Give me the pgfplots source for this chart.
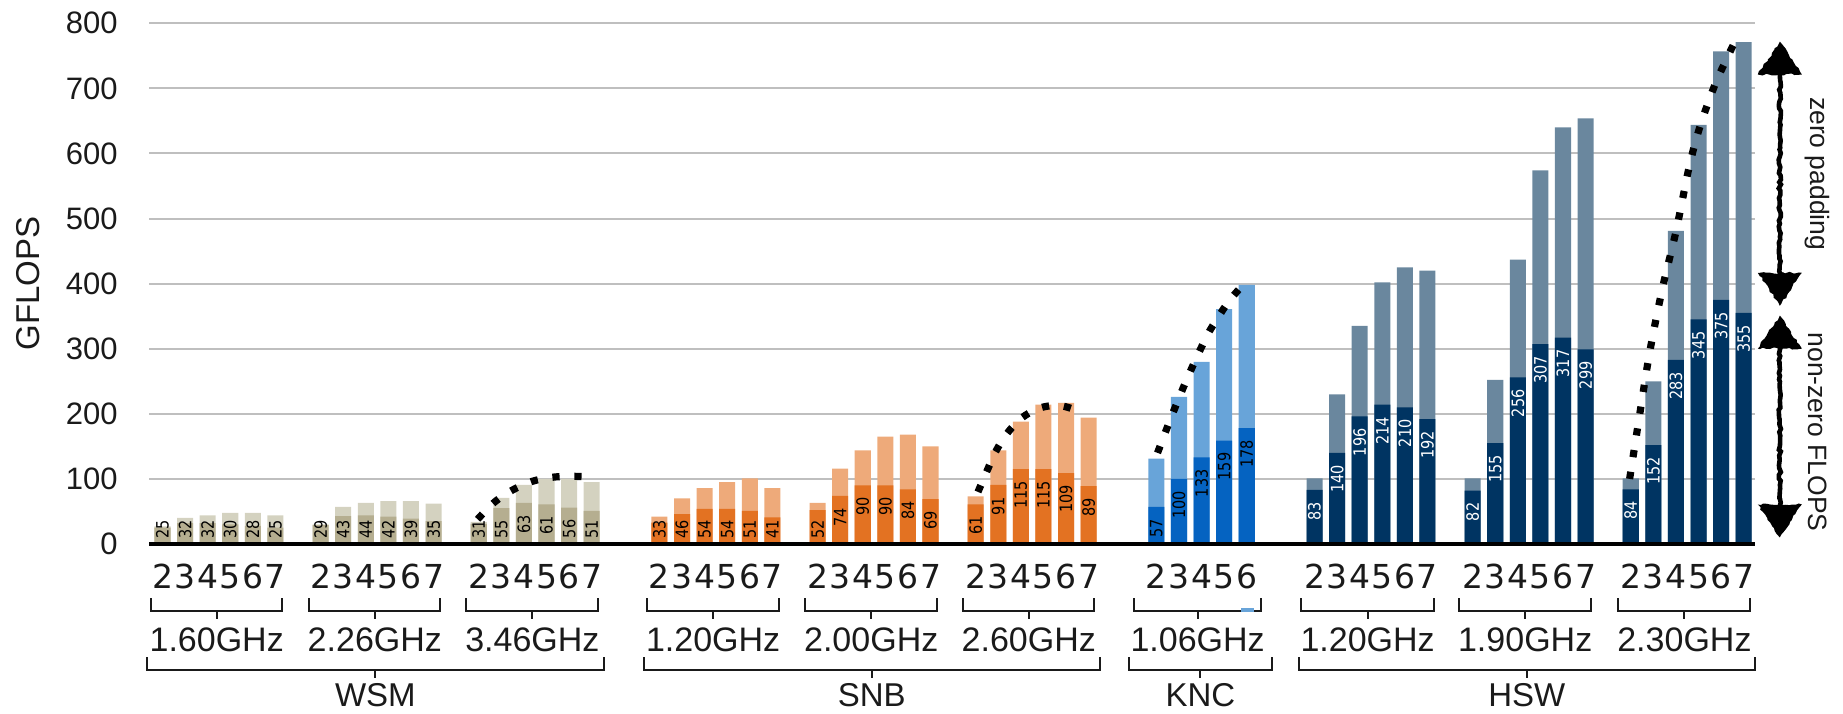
\documentclass[border=0pt]{standalone}
\usepackage{fontspec}
\setmainfont{Liberation Sans}
\newfontfamily\djv{DejaVu Sans}
\newfontfamily\djvc[FakeStretch=0.85]{DejaVu Sans}
\usepackage{pgfplots}
\pgfplotsset{compat=1.18}
\usepackage{pgfplotstable}
\usetikzlibrary{arrows.meta,decorations.pathmorphing}

\definecolor{wsmL}{HTML}{D4D2C0}
\definecolor{wsmD}{HTML}{B5AE90}
\definecolor{snbL}{HTML}{EEAA7A}
\definecolor{snbD}{HTML}{E37222}
\definecolor{kncL}{HTML}{68A4D9}
\definecolor{kncD}{HTML}{0563C1}
\definecolor{hswL}{HTML}{6A879E}
\definecolor{hswD}{HTML}{003462}
\definecolor{txt}{HTML}{1A1A1A}

% x = bar slot, t = total GFLOPS (with zero padding), d = non-zero GFLOPS
\pgfplotstableread{
x  t   d
0  27  25
1  40  32
2  44  32
3  48  30
4  48  28
5  44  25
7  30  29
8  57  43
9  63  44
10 66  42
11 66  39
12 62  35
14 34  31
15 71  55
16 91  63
17 100 61
18 100 56
19 95  51
}\wsm
\pgfplotstableread{
x  t   d
22 42  33
23 70  46
24 86  54
25 95  54
26 101 51
27 86  41
29 63  52
30 116 74
31 144 90
32 165 90
33 168 84
34 150 69
36 73  61
37 144 91
38 188 115
39 214 115
40 217 109
41 194 89
}\snb
\pgfplotstableread{
x  t   d
44 131 57
45 226 100
46 280 133
47 361 159
48 398 178
}\knc
\pgfplotstableread{
x  t   d
51 101 83
52 230 140
53 335 196
54 402 214
55 425 210
56 420 192
58 101 82
59 252 155
60 437 256
61 574 307
62 640 317
63 654 299
65 101 84
66 250 152
67 481 283
68 644 345
69 757 375
70 771 355
}\hsw

\newcommand\labfont{\djvc\fontsize{8.5}{9}\selectfont}

\pgfplotsset{
  barp/.style={ybar, bar width=0.71, bar shift=0pt, draw=none, fill=#1},
  lab/.style={draw=none, mark=none, nodes near coords, point meta=explicit symbolic,
    every node near coord/.append style={rotate=90, anchor=east, inner sep=0pt,
      font=\labfont, text=#1}},
  dots/.style={smooth, tension=0.55, black, line width=3.6pt, dash pattern=on 3.6pt off 7.4pt},
}

\begin{document}
\begin{tikzpicture}
\pgfmathsetseed{7}
\begin{axis}[
  scale only axis, width=802.8pt, height=260.35pt,
  xmin=-0.58, xmax=70.5, ymin=0, ymax=800,
  clip=false,
  axis line style={draw=none},
  major tick length=0pt,
  ytick={0,100,...,800},
  ymajorgrids, grid style={line width=1pt, draw=black!25},
  /pgf/number format/assume math mode=true,
  yticklabel style={font=\fontsize{15.5}{18}\selectfont, text=txt, anchor=east, inner sep=0pt, xshift=-15.7pt},
  xtick={0,1,2,3,4,5,7,8,9,10,11,12,14,15,16,17,18,19,22,23,24,25,26,27,29,30,31,32,33,34,36,37,38,39,40,41,44,45,46,47,48,51,52,53,54,55,56,58,59,60,61,62,63,65,66,67,68,69,70},
  xticklabels={2,3,4,5,6,7,2,3,4,5,6,7,2,3,4,5,6,7,2,3,4,5,6,7,2,3,4,5,6,7,2,3,4,5,6,7,2,3,4,5,6,2,3,4,5,6,7,2,3,4,5,6,7,2,3,4,5,6,7},
  xticklabel style={font=\djv\fontsize{16.5}{18}\selectfont, text=txt, anchor=north, inner sep=0pt, yshift=-10pt},
]
\coordinate (O) at (rel axis cs:0,0);

% totals (light) with the non-zero part (dark) drawn over them
\addplot[barp=wsmL] table[x=x,y=t]{\wsm};
\addplot[barp=wsmD] table[x=x,y=d]{\wsm};
\addplot[barp=snbL] table[x=x,y=t]{\snb};
\addplot[barp=snbD] table[x=x,y=d]{\snb};
\addplot[barp=kncL] table[x=x,y=t]{\knc};
\addplot[barp=kncD] table[x=x,y=d]{\knc};
\addplot[barp=hswL] table[x=x,y=t]{\hsw};
\addplot[barp=hswD] table[x=x,y=d]{\hsw};

% value labels inside the non-zero segments
\addplot[lab=black] table[x=x, y expr={max(\thisrow{d}-18,ifthenelse(\thisrow{d}<100,37,51))}, meta=d]{\wsm};
\addplot[lab=black] table[x=x, y expr={max(\thisrow{d}-18,ifthenelse(\thisrow{d}<100,37,51))}, meta=d]{\snb};
\addplot[lab=black] table[x=x, y expr={max(\thisrow{d}-18,ifthenelse(\thisrow{d}<100,37,51))}, meta=d]{\knc};
\addplot[lab=white] table[x=x, y expr={max(\thisrow{d}-18,ifthenelse(\thisrow{d}<100,37,51))}, meta=d]{\hsw};

% trend curves over the best-frequency groups
\addplot[dots] coordinates {(13.95,38) (14.72,65) (15.5,83) (16.34,96) (17.24,102.5) (18.17,104) (19.1,102.5)};
\addplot[dots] coordinates {(36.1,80) (36.51,113) (36.88,141.6) (37.37,169) (38.03,193.5) (38.84,209) (39.73,212.7) (40.66,203)};
\addplot[dots] coordinates {(44.05,140) (44.72,200.5) (45.44,260.5) (46.22,318.5) (46.69,346) (47.21,373) (47.8,397)};
\addplot[dots] coordinates {(64.95,100) (65.4,200) (65.85,297) (66.41,394) (67.0,480) (67.59,580) (68.06,641) (68.72,705) (69.39,756) (69.8,785)};

% baseline
\draw[line width=2pt, black] (rel axis cs:0,0) -- (rel axis cs:1,0);

% side annotation: two sketched double arrows
\tikzset{rough/.style={decorate, decoration={random steps, segment length=1.6pt, amplitude=0.55pt}}}
\draw[rough, line width=2.3pt] (axis cs:71.6,384) -- (axis cs:71.6,754);
\fill[rough] (axis cs:71.6,772) -- ([xshift=11pt,yshift=-16.5pt]axis cs:71.6,772) -- ([xshift=-11pt,yshift=-16.5pt]axis cs:71.6,772) -- cycle;
\fill[rough] (axis cs:71.6,366) -- ([xshift=11pt,yshift=16.5pt]axis cs:71.6,366) -- ([xshift=-11pt,yshift=16.5pt]axis cs:71.6,366) -- cycle;
\draw[rough, line width=2.3pt] (axis cs:71.6,28) -- (axis cs:71.6,333);
\fill[rough] (axis cs:71.6,351) -- ([xshift=11pt,yshift=-16.5pt]axis cs:71.6,351) -- ([xshift=-11pt,yshift=-16.5pt]axis cs:71.6,351) -- cycle;
\fill[rough] (axis cs:71.6,10) -- ([xshift=11pt,yshift=16.5pt]axis cs:71.6,10) -- ([xshift=-11pt,yshift=16.5pt]axis cs:71.6,10) -- cycle;
\node[rotate=-90, text=txt, font=\fontsize{13.25}{15}\selectfont] at (axis cs:73.28,569) {zero padding};
\node[rotate=-90, text=txt, font=\fontsize{13.25}{15}\selectfont] at (axis cs:73.28,172) {non-zero FLOPS};
\end{axis}

% y axis title
\node[rotate=90, text=txt, font=\fontsize{16.5}{19}\selectfont] at ([xshift=-60.85pt, yshift=130.2pt]O) {GFLOPS};

% two-level category brackets
\begin{scope}[shift={([xshift=6.5507pt]O)}, x=11.29432pt, y=1pt,
  brk/.style={line width=1pt, draw=txt},
  catlab/.style={anchor=base, inner sep=0pt, text=txt, font=\fontsize{17}{19}\selectfont}]
\newcommand\fbrk[3]{%
  \draw[brk] (#1,-27) -- (#1,-33.5) -- (#2,-33.5) -- (#2,-27);
  \draw[brk] ({(#1+#2)/2},-33.5) -- ({(#1+#2)/2},-37.5);
  \node[catlab] at ({(#1+#2)/2},-53.5) {#3};}
\newcommand\abrk[3]{%
  \draw[brk] (#1,-56.5) -- (#1,-63) -- (#2,-63) -- (#2,-56.5);
  \draw[brk] ({(#1+#2)/2},-63) -- ({(#1+#2)/2},-67);
  \node[catlab, font=\fontsize{16.5}{19}\selectfont] at ({(#1+#2)/2},-81.3) {#3};}
\fbrk{-0.5}{5.3}{1.60GHz}
\fbrk{6.5}{12.3}{2.26GHz}
\fbrk{13.45}{19.3}{3.46GHz}
\fbrk{21.45}{27.3}{1.20GHz}
\fbrk{28.45}{34.3}{2.00GHz}
\fbrk{35.45}{41.25}{2.60GHz}
\fbrk{43.0}{48.65}{1.06GHz}
\fbrk{50.4}{56.3}{1.20GHz}
\fbrk{57.4}{63.25}{1.90GHz}
\fbrk{64.45}{70.3}{2.30GHz}
\fill[kncL] (47.75,-33.9) rectangle (48.3,-31.9);
\abrk{-0.7}{19.55}{WSM}
\abrk{21.3}{41.5}{SNB}
\abrk{42.8}{49.1}{KNC}
\abrk{50.3}{70.5}{HSW}
\end{scope}

\pgfresetboundingbox
\path[use as bounding box] ([shift={(-74.7pt,-84.5pt)}]O) rectangle ([shift={(846.8pt,272pt)}]O);
\end{tikzpicture}
\end{document}
